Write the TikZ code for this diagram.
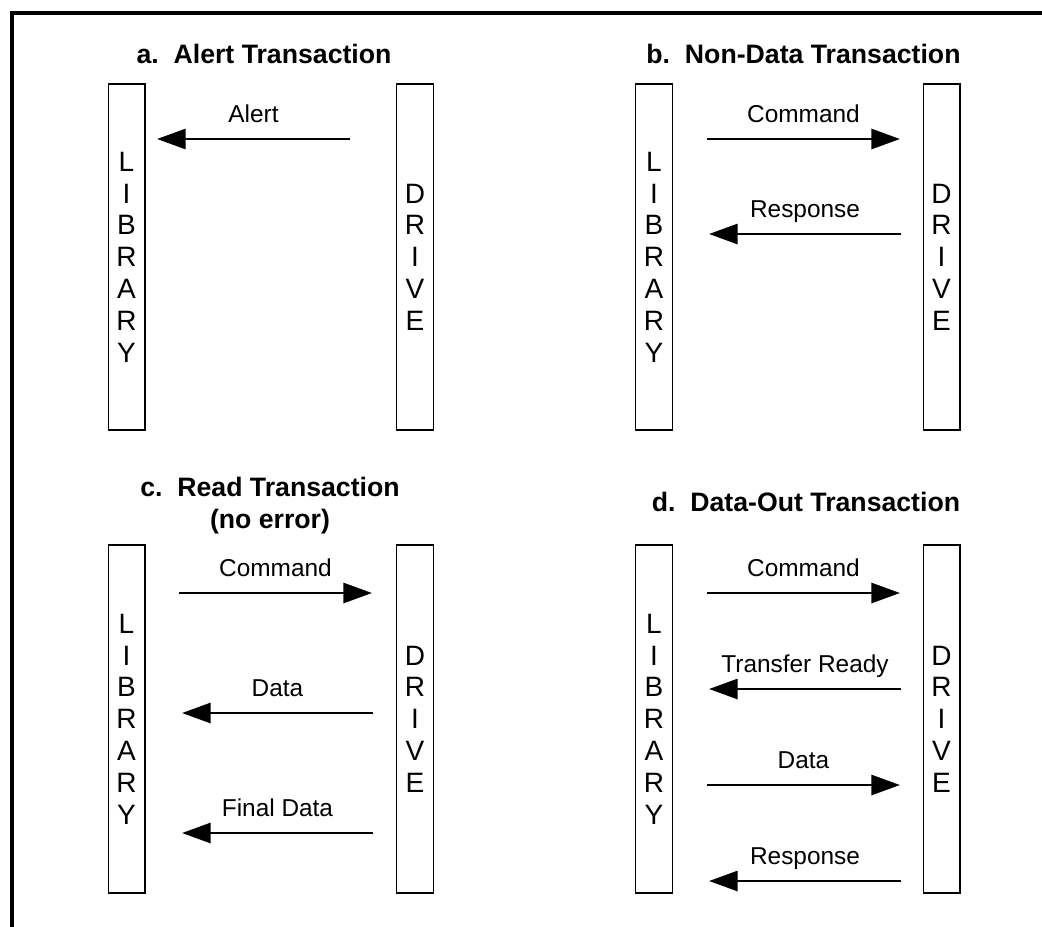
\documentclass[tikz,border=0pt]{standalone}
\usepackage{fontspec}
\setmainfont{Liberation Sans}
\usetikzlibrary{arrows.meta}
\begin{document}
\begin{tikzpicture}[x=0.75pt,y=-0.75pt,
  frame/.style={line width=3pt},
  box/.style={draw, line width=1.1pt, minimum width=27.4pt, inner sep=0pt},
  boxab/.style={box, minimum height=259.5pt},
  boxcd/.style={box, minimum height=261pt},
  letters/.style={font=\fontsize{21}{23.85}\selectfont, align=center, inner sep=0pt},
  title/.style={font=\fontsize{20}{24}\selectfont\bfseries, align=center, inner sep=0pt},
  msg/.style={line width=2.2pt, -{Triangle[length=21.5pt,width=15pt]}},
  lbl/.style={font=\fontsize{18.3}{22}\selectfont, anchor=base, inner sep=0pt, yshift=12.75pt}]
\useasboundingbox (0,0) rectangle (1042,926);
% frame
\coordinate (fbl) at (12,932);
\coordinate (ftl) at (12,13);
\coordinate (ftr) at (1050,13);
\draw[frame] (fbl) -- (ftl) -- (ftr);

% ---- panel a
\node[title, anchor=base] (atitle) at (264,63) {a.\ \ Alert Transaction};
\node[boxab] (alib) at (126.5,257) {};
\node[boxab] (adrv) at (415,257) {};
\node[letters] (alibt) at (alib.center) {L\\I\\B\\R\\A\\R\\Y};
\node[letters] (adrvt) at (adrv.center) {D\\R\\I\\V\\E};
\coordinate (a1s) at (350,139); \coordinate (a1e) at (157,139);
\draw[msg] (a1s) -- node[lbl] (a1l) {Alert} (a1e);

% ---- panel b
\node[title, anchor=base] (btitle) at (803.5,63) {b.\ \ Non-Data Transaction};
\node[boxab] (blib) at (654,257) {};
\node[boxab] (bdrv) at (941.5,257) {};
\node[letters] (blibt) at (blib.center) {L\\I\\B\\R\\A\\R\\Y};
\node[letters] (bdrvt) at (bdrv.center) {D\\R\\I\\V\\E};
\coordinate (b1s) at (707,139); \coordinate (b1e) at (900,139);
\draw[msg] (b1s) -- node[lbl] (b1l) {Command} (b1e);
\coordinate (b2s) at (901,234); \coordinate (b2e) at (709,234);
\draw[msg] (b2s) -- node[lbl] (b2l) {Response} (b2e);

% ---- panel c
\node[title, anchor=north] (ctitle) at (270,477) {c.\ \ Read Transaction\\(no error)};
\node[boxcd] (clib) at (126.5,719) {};
\node[boxcd] (cdrv) at (415,719) {};
\node[letters] (clibt) at (clib.center) {L\\I\\B\\R\\A\\R\\Y};
\node[letters] (cdrvt) at (cdrv.center) {D\\R\\I\\V\\E};
\coordinate (c1s) at (179,593); \coordinate (c1e) at (372,593);
\draw[msg] (c1s) -- node[lbl] (c1l) {Command} (c1e);
\coordinate (c2s) at (373,713); \coordinate (c2e) at (182,713);
\draw[msg] (c2s) -- node[lbl] (c2l) {Data} (c2e);
\coordinate (c3s) at (373,833); \coordinate (c3e) at (182,833);
\draw[msg] (c3s) -- node[lbl] (c3l) {Final Data} (c3e);

% ---- panel d
\node[title, anchor=base] (dtitle) at (806,511) {d.\ \ Data-Out Transaction};
\node[boxcd] (dlib) at (654,719) {};
\node[boxcd] (ddrv) at (941.5,719) {};
\node[letters] (dlibt) at (dlib.center) {L\\I\\B\\R\\A\\R\\Y};
\node[letters] (ddrvt) at (ddrv.center) {D\\R\\I\\V\\E};
\coordinate (d1s) at (707,593); \coordinate (d1e) at (900,593);
\draw[msg] (d1s) -- node[lbl] (d1l) {Command} (d1e);
\coordinate (d2s) at (901,689); \coordinate (d2e) at (709,689);
\draw[msg] (d2s) -- node[lbl] (d2l) {Transfer Ready} (d2e);
\coordinate (d3s) at (707,785); \coordinate (d3e) at (900,785);
\draw[msg] (d3s) -- node[lbl] (d3l) {Data} (d3e);
\coordinate (d4s) at (901,881); \coordinate (d4e) at (709,881);
\draw[msg] (d4s) -- node[lbl] (d4l) {Response} (d4e);
\end{tikzpicture}
\end{document}
